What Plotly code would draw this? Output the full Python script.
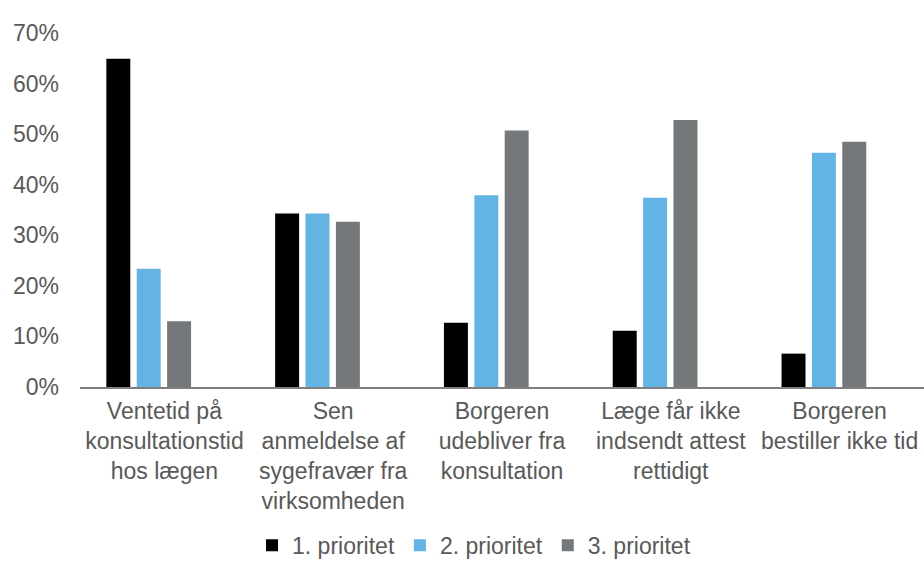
import plotly.graph_objects as go

# Reasons, share of respondents ranking each as 1st / 2nd / 3rd priority
categories = [
    "Ventetid på<br>konsultationstid<br>hos lægen",
    "Sen<br>anmeldelse af<br>sygefravær fra<br>virksomheden",
    "Borgeren<br>udebliver fra<br>konsultation",
    "Læge får ikke<br>indsendt attest<br>rettidigt",
    "Borgeren<br>bestiller ikke tid",
]
series_names = ["1. prioritet", "2. prioritet", "3. prioritet"]
prio1 = [0.649, 0.343, 0.127, 0.111, 0.066]
prio2 = [0.234, 0.343, 0.379, 0.374, 0.463]
prio3 = [0.130, 0.327, 0.507, 0.528, 0.485]
y_ticks = [0, 0.1, 0.2, 0.3, 0.4, 0.5, 0.6, 0.7]
y_tick_labels = ["0%", "10%", "20%", "30%", "40%", "50%", "60%", "70%"]

colors = ["#000000", "#63B4E5", "#75787B"]
offsets = [-0.344, -0.164, 0.016]
bar_width = 0.142
text_color = "#595959"
font_family = "Liberation Sans, Arial, Helvetica, sans-serif"

fig = go.Figure()
for name, values, color, off in zip(series_names, [prio1, prio2, prio3], colors, offsets):
    fig.add_trace(go.Bar(
        x=list(range(len(categories))),
        y=values,
        name=name,
        marker=dict(color=color, line=dict(width=0)),
        offset=off,
        width=bar_width,
    ))

fig.update_layout(
    width=924,
    height=561,
    margin=dict(l=80, r=0, t=33, b=174),
    paper_bgcolor="white",
    plot_bgcolor="white",
    font=dict(family=font_family, size=23, color=text_color),
    barmode="group",
    showlegend=True,
    legend=dict(
        orientation="h",
        xref="container", yref="container",
        x=0.513, xanchor="center",
        y=0.028, yanchor="middle",
        font=dict(size=23, color=text_color),
        itemclick=False,
    ),
)

fig.update_xaxes(
    tickmode="array",
    tickvals=list(range(len(categories))),
    ticktext=categories,
    range=[-0.5, 4.5],
    showline=True,
    linecolor="#7F7F7F",
    linewidth=1.5,
    showgrid=False,
    zeroline=False,
    ticks="",
    ticklabelstandoff=3,
    tickfont=dict(size=23, color=text_color),
)
fig.update_yaxes(
    range=[0, 0.7],
    tickmode="array",
    tickvals=y_ticks,
    ticktext=y_tick_labels,
    showline=False,
    showgrid=False,
    zeroline=False,
    ticks="",
    ticklabelstandoff=20,
    tickfont=dict(size=23, color=text_color),
)

fig.write_html("out.html")
